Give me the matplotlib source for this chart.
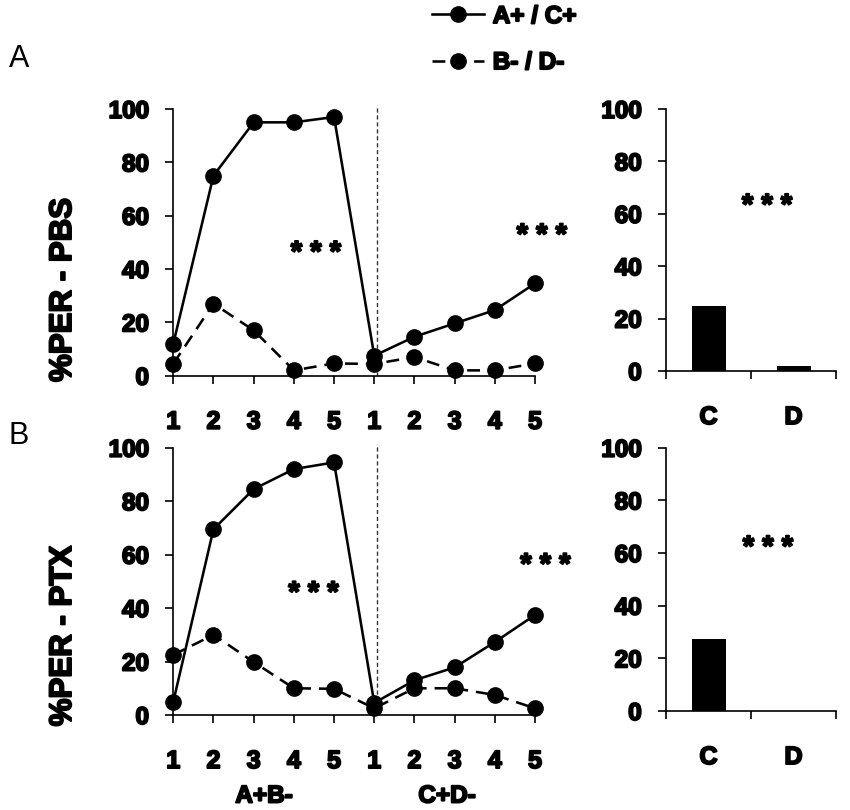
import matplotlib
matplotlib.use("Agg")
import matplotlib.pyplot as plt
import matplotlib.patheffects as pe
import numpy as np

plt.rcParams['font.family'] = ['Liberation Sans', 'DejaVu Sans']
plt.rcParams['font.weight'] = 'bold'

# ---- data ----
trial_labels = ['1', '2', '3', '4', '5', '1', '2', '3', '4', '5']
pbs_pos = [12, 75, 95, 95, 97, 7.5, 14.6, 19.6, 24.6, 34.6]   # A+ / C+
pbs_neg = [4.5, 27, 17, 2, 4.6, 4.4, 7, 2, 2, 4.6]           # B- / D-
ptx_pos = [5, 69.5, 84.5, 92, 94.5, 4.5, 13, 17.8, 27.3, 37.4]
ptx_neg = [22.5, 30, 19.8, 10, 9.8, 2.5, 10, 10, 7.5, 2.5]
bar_cats = ['C', 'D']
pbs_bar = [25, 2]
ptx_bar = [27.5, 0]
series_labels = ['A+ / C+', 'B- / D-']
phase_labels = ['A+B-', 'C+D-']
yticks = [0, 20, 40, 60, 80, 100]

W, H = 850, 810
fig = plt.figure(figsize=(8.5, 8.1), dpi=100)

HEAVY = [pe.withStroke(linewidth=1.4, foreground='black')]
LW = 1.85
DASH = (0, (5.0, 3.1))

def fx(px):
    return px / W

def fy(py):
    return 1 - py / H

def box(l, t, r, b):
    return [fx(l), fy(b), fx(r) - fx(l), fy(t) - fy(b)]

ax1 = fig.add_axes(box(173.3, 109, 535, 375.7))
ax2 = fig.add_axes(box(666, 109, 836, 371))
ax3 = fig.add_axes(box(173.3, 447.7, 535, 715))
ax4 = fig.add_axes(box(666, 447.7, 836, 711))

def heavy_labels(labels):
    for lab in labels:
        lab.set_fontweight('bold')
        lab.set_path_effects(HEAVY)

def style(ax, xpad):
    for s in ['top', 'right']:
        ax.spines[s].set_visible(False)
    for s in ['left', 'bottom']:
        ax.spines[s].set_linewidth(1.2)
    ax.set_ylim(0, 100)
    ax.set_yticks(yticks)
    ax.tick_params(axis='y', direction='out', length=5.5, width=1.2,
                   labelsize=17.5, pad=12)
    ax.tick_params(axis='x', direction='out', length=5.5, width=1.2,
                   labelsize=18, pad=xpad)
    heavy_labels(ax.get_yticklabels() + ax.get_xticklabels())

def stars(ax, x, y):
    ax.text(x, y, '* * *', ha='center', va='center', fontsize=21,
            fontweight='bold', path_effects=HEAVY)

def line_panel(ax, pos, neg, xpad, star_pts):
    x = np.arange(len(pos))
    l1, = ax.plot(x, pos, '-', color='black', lw=LW, marker='o', ms=11,
                  clip_on=False, zorder=3)
    l2, = ax.plot(x, neg, color='black', lw=LW, ls=DASH,
                  marker='o', ms=11, clip_on=False, zorder=3)
    ax.set_xlim(0, len(pos) - 1)
    ax.set_xticks(x)
    ax.set_xticklabels(trial_labels)
    ax.axvline(5.08, ymin=0, ymax=1.015, color='#333333', lw=1.0,
               ls=(0, (3, 2)), clip_on=False, zorder=1)
    style(ax, xpad)
    for (sx, sy) in star_pts:
        stars(ax, sx, sy)
    return l1, l2

def bar_panel(ax, vals, xpad, star_pt):
    xc = np.arange(len(vals)) + 0.5
    ax.bar(xc, vals, width=0.4, color='black')
    ax.set_xlim(0, len(vals))
    ax.set_xticks(np.arange(len(vals) + 1))
    ax.set_xticklabels([])
    ax.set_xticks(xc, minor=True)
    ax.set_xticklabels(bar_cats, minor=True)
    style(ax, xpad)
    ax.tick_params(axis='x', which='minor', length=0, labelsize=18,
                   pad=xpad + 5.5)
    heavy_labels(ax.get_xticklabels(minor=True))
    stars(ax, star_pt[0], star_pt[1])

XPAD = 19
l1, l2 = line_panel(ax1, pbs_pos, pbs_neg, XPAD, [(3.55, 46), (9.17, 52.5)])
line_panel(ax3, ptx_pos, ptx_neg, XPAD, [(3.49, 45.5), (9.26, 56)])
bar_panel(ax2, pbs_bar, XPAD, (1.19, 63))
bar_panel(ax4, ptx_bar, XPAD, (1.2, 62))

# y labels
fig.text(fx(63), fy(290), '%PER - PBS', rotation=90, ha='center', va='center',
         fontsize=22.5, fontweight='bold', path_effects=HEAVY)
fig.text(fx(63), fy(636), '%PER - PTX', rotation=90, ha='center', va='center',
         fontsize=22.5, fontweight='bold', path_effects=HEAVY)

# panel letters
fig.text(fx(19), fy(59), 'A', ha='center', va='center', fontsize=22,
         fontweight='normal')
fig.text(fx(19), fy(436), 'B', ha='center', va='center', fontsize=22,
         fontweight='normal')

# phase labels
fig.text(fx(264), fy(796), phase_labels[0], ha='center', va='center',
         fontsize=17.5, fontweight='bold', path_effects=HEAVY)
fig.text(fx(447), fy(796), phase_labels[1], ha='center', va='center',
         fontsize=17.5, fontweight='bold', path_effects=HEAVY)

# legend
leg = fig.legend([l1, l2], series_labels, loc='upper left',
                 bbox_to_anchor=(fx(432), fy(5)), frameon=False,
                 handlelength=2.15, handletextpad=0.35, labelspacing=0.95,
                 borderpad=0, borderaxespad=0,
                 prop={'weight': 'bold', 'size': 17.5})
for t in leg.get_texts():
    t.set_path_effects(HEAVY)

fig.savefig('out.png', dpi=100)
